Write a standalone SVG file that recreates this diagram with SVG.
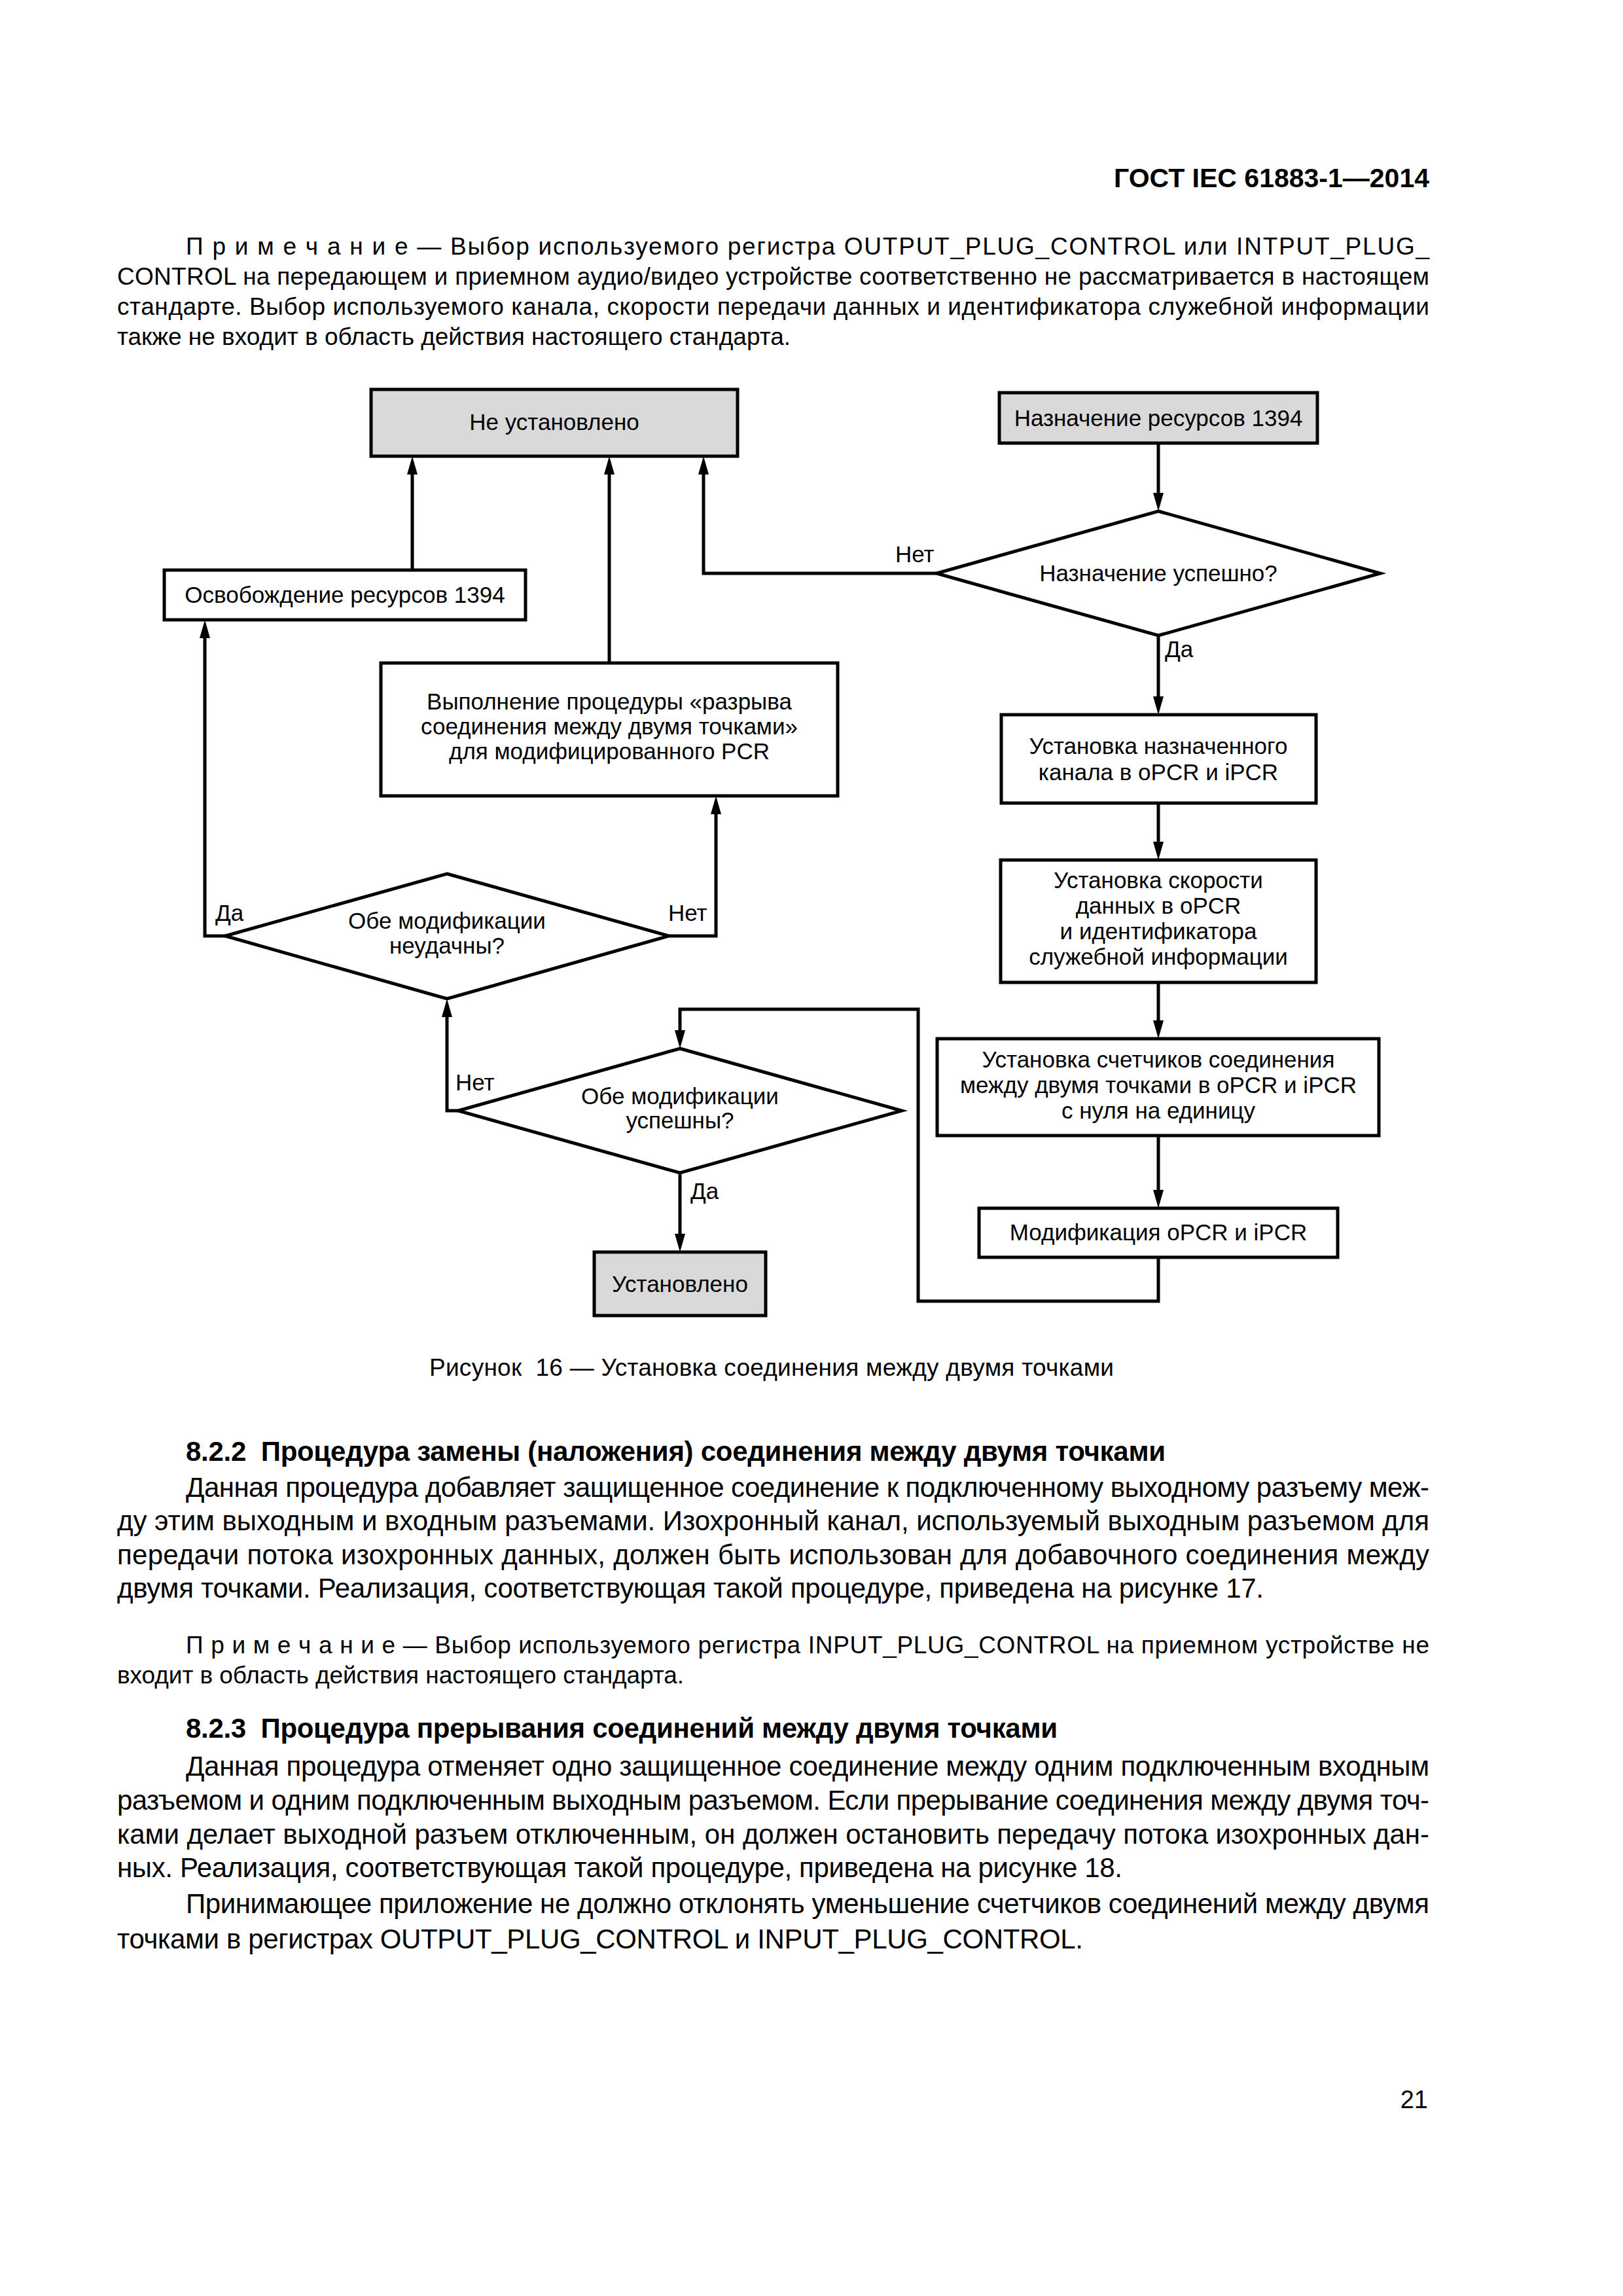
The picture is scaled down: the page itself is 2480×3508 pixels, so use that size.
<svg xmlns="http://www.w3.org/2000/svg" width="2480" height="3508" viewBox="0 0 2480 3508">
<style>
text{font-family:"Liberation Sans",Arial,"Noto Sans",sans-serif;fill:#000}
.hdr{font-size:41px;font-weight:bold}
.note{font-size:37px}
.body{font-size:42px}
.h2{font-size:42px;font-weight:bold}
.cap{font-size:37px}
.dg{font-size:35px;text-anchor:middle}
.lbl{font-size:35px}
.box{fill:#fff;stroke:#000;stroke-width:5}
.gray{fill:#d9d9d9}
.conn{fill:none;stroke:#000;stroke-width:5;stroke-linejoin:miter}
</style>
<defs>
<marker id="ah" markerUnits="userSpaceOnUse" markerWidth="28" markerHeight="16" refX="0" refY="8" orient="auto" overflow="visible">
<path d="M0,0 L28,8 L0,16 z" fill="#000"/>
</marker>
</defs>
<rect width="2480" height="3508" fill="#fff"/>

<g id="page-text">
<text class="hdr" x="2184" y="286" text-anchor="end">ГОСТ IEC 61883-1—2014</text>
<text class="note" x="284" y="389" textLength="1900" lengthAdjust="spacing">П р и м е ч а н и е — Выбор используемого регистра OUTPUT_PLUG_CONTROL или INTPUT_PLUG_</text>
<text class="note" x="179" y="435" textLength="2005" lengthAdjust="spacing">CONTROL на передающем и приемном аудио/видео устройстве соответственно не рассматривается в настоящем</text>
<text class="note" x="179" y="481" textLength="2005" lengthAdjust="spacing">стандарте. Выбор используемого канала, скорости передачи данных и идентификатора служебной информации</text>
<text class="note" x="179" y="527" textLength="1029" lengthAdjust="spacing">также не входит в область действия настоящего стандарта.</text>

<text class="cap" x="656" y="2102" textLength="1046" lengthAdjust="spacing" xml:space="preserve">Рисунок  16 — Установка соединения между двумя точками</text>

<text class="h2" x="284" y="2232" textLength="1497" lengthAdjust="spacing" xml:space="preserve">8.2.2  Процедура замены (наложения) соединения между двумя точками</text>
<text class="body" x="284" y="2287" textLength="1900" lengthAdjust="spacing">Данная процедура добавляет защищенное соединение к подключенному выходному разъему меж-</text>
<text class="body" x="179" y="2338" textLength="2005" lengthAdjust="spacing">ду этим выходным и входным разъемами. Изохронный канал, используемый выходным разъемом для</text>
<text class="body" x="179" y="2390" textLength="2005" lengthAdjust="spacing">передачи потока изохронных данных, должен быть использован для добавочного соединения между</text>
<text class="body" x="179" y="2441" textLength="1752" lengthAdjust="spacing">двумя точками. Реализация, соответствующая такой процедуре, приведена на рисунке 17.</text>

<text class="note" x="284" y="2526" textLength="1900" lengthAdjust="spacing">П р и м е ч а н и е — Выбор используемого регистра INPUT_PLUG_CONTROL на приемном устройстве не</text>
<text class="note" x="179" y="2572" textLength="866" lengthAdjust="spacing">входит в область действия настоящего стандарта.</text>

<text class="h2" x="284" y="2655" textLength="1332" lengthAdjust="spacing" xml:space="preserve">8.2.3  Процедура прерывания соединений между двумя точками</text>
<text class="body" x="284" y="2713" textLength="1900" lengthAdjust="spacing">Данная процедура отменяет одно защищенное соединение между одним подключенным входным</text>
<text class="body" x="179" y="2765" textLength="2005" lengthAdjust="spacing">разъемом и одним подключенным выходным разъемом. Если прерывание соединения между двумя точ-</text>
<text class="body" x="179" y="2817" textLength="2005" lengthAdjust="spacing">ками делает выходной разъем отключенным, он должен остановить передачу потока изохронных дан-</text>
<text class="body" x="179" y="2868" textLength="1536" lengthAdjust="spacing">ных. Реализация, соответствующая такой процедуре, приведена на рисунке 18.</text>
<text class="body" x="284" y="2923" textLength="1900" lengthAdjust="spacing">Принимающее приложение не должно отклонять уменьшение счетчиков соединений между двумя</text>
<text class="body" x="179" y="2977" textLength="1476" lengthAdjust="spacing">точками в регистрах OUTPUT_PLUG_CONTROL и INPUT_PLUG_CONTROL.</text>

<text class="body" x="2182" y="3221" text-anchor="end" style="font-size:38px">21</text>
</g>

<g id="connectors">
<path class="conn" d="M1770,677 V753" marker-end="url(#ah)"/>
<path class="conn" d="M1431,876 H1075 V725" marker-end="url(#ah)"/>
<path class="conn" d="M1770,971 V1064" marker-end="url(#ah)"/>
<path class="conn" d="M1770,1227 V1286" marker-end="url(#ah)"/>
<path class="conn" d="M1770,1501 V1559" marker-end="url(#ah)"/>
<path class="conn" d="M1770,1735 V1818" marker-end="url(#ah)"/>
<path class="conn" d="M1770,1921 V1988 H1403 V1542 H1039 V1574" marker-end="url(#ah)"/>
<path class="conn" d="M700,1697 H683 V1554" marker-end="url(#ah)"/>
<path class="conn" d="M1039,1792 V1885" marker-end="url(#ah)"/>
<path class="conn" d="M344,1430 H313 V975" marker-end="url(#ah)"/>
<path class="conn" d="M1022,1430 H1094 V1244" marker-end="url(#ah)"/>
<path class="conn" d="M630,871 V725" marker-end="url(#ah)"/>
<path class="conn" d="M931,1013 V725" marker-end="url(#ah)"/>
<text class="lbl" x="1368" y="859">Нет</text>
<text class="lbl" x="1780" y="1004">Да</text>
<text class="lbl" x="696" y="1666">Нет</text>
<text class="lbl" x="1055" y="1832">Да</text>
<text class="lbl" x="329" y="1407">Да</text>
<text class="lbl" x="1021" y="1407">Нет</text>
</g>

<g id="n1">
<rect class="box gray" x="567" y="595" width="560" height="102"/>
<text class="dg" x="847" y="657">Не установлено</text>
</g>
<g id="n2">
<rect class="box gray" x="1527" y="600" width="486" height="77"/>
<text class="dg" x="1770" y="651">Назначение ресурсов 1394</text>
</g>
<g id="n3">
<polygon class="box" points="1770,781 2109,876 1770,971 1431,876"/>
<text class="dg" x="1770" y="888">Назначение успешно?</text>
</g>
<g id="n4">
<rect class="box" x="251" y="871" width="552" height="76"/>
<text class="dg" x="527" y="921">Освобождение ресурсов 1394</text>
</g>
<g id="n5">
<rect class="box" x="582" y="1013" width="698" height="203"/>
<text class="dg" x="931" y="1084">Выполнение процедуры «разрыва</text>
<text class="dg" x="931" y="1122">соединения между двумя точками»</text>
<text class="dg" x="931" y="1160">для модифицированного PCR</text>
</g>
<g id="n6">
<rect class="box" x="1530" y="1092" width="481" height="135"/>
<text class="dg" x="1770" y="1152">Установка назначенного</text>
<text class="dg" x="1770" y="1192">канала в oPCR и iPCR</text>
</g>
<g id="n7">
<rect class="box" x="1529" y="1314" width="482" height="187"/>
<text class="dg" x="1770" y="1357">Установка скорости</text>
<text class="dg" x="1770" y="1396">данных в oPCR</text>
<text class="dg" x="1770" y="1435">и идентификатора</text>
<text class="dg" x="1770" y="1474">служебной информации</text>
</g>
<g id="n8">
<rect class="box" x="1432" y="1587" width="675" height="148"/>
<text class="dg" x="1770" y="1631">Установка счетчиков соединения</text>
<text class="dg" x="1770" y="1670">между двумя точками в oPCR и iPCR</text>
<text class="dg" x="1770" y="1709">с нуля на единицу</text>
</g>
<g id="n9">
<rect class="box" x="1496" y="1846" width="548" height="75"/>
<text class="dg" x="1770" y="1895">Модификация oPCR и iPCR</text>
</g>
<g id="n10">
<polygon class="box" points="683,1335 1022,1430 683,1526 344,1430"/>
<text class="dg" x="683" y="1419">Обе модификации</text>
<text class="dg" x="683" y="1457">неудачны?</text>
</g>
<g id="n11">
<polygon class="box" points="1039,1602 1378,1697 1039,1792 700,1697"/>
<text class="dg" x="1039" y="1687">Обе модификации</text>
<text class="dg" x="1039" y="1724">успешны?</text>
</g>
<g id="n12">
<rect class="box gray" x="908" y="1913" width="262" height="97"/>
<text class="dg" x="1039" y="1974">Установлено</text>
</g>
</svg>
